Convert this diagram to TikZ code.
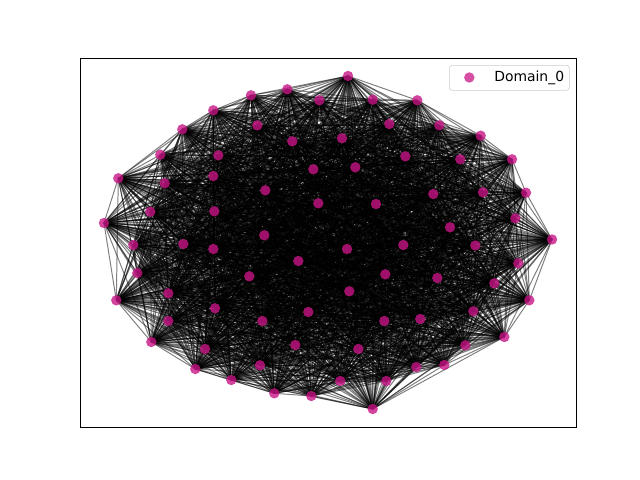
\documentclass[tikz,border=0pt]{standalone}
\usepackage{fontspec}
\setmainfont{DejaVu Sans}
\usetikzlibrary{backgrounds}

\definecolor{domcolor}{RGB}{199,21,133}
\tikzset{
  dom/.style={circle, fill=domcolor, fill opacity=0.8, inner sep=0pt, minimum size=2.6mm},
  link/.style={black, opacity=0.5, line width=0.7pt},
}

\begin{document}
\begin{tikzpicture}[x=0.025cm, y=-0.025cm]
\useasboundingbox (0,0) rectangle (640,480);

% Axes frame
\draw[line width=0.7pt] (80,58) rectangle (576,427);

% Place the domain nodes
\foreach \x/\y [count=\k] in {
  348/76, 287.3/89.3, 251/95.3, 319.3/100.3, 372.7/99.7, 417.3/100.3,
  213.3/110.3, 257.3/125.3, 182.3/129.3, 389.3/124, 439.3/125.3, 480.7/135.7,
  292.3/141.3, 342/138.3, 160.3/154.7, 218.3/155.3, 405.3/156.3, 460.3/159.3,
  512/159.3, 313.3/169.3, 355.3/167.3, 118.3/178.3, 164.7/183.3, 213.3/176,
  265.3/190.3, 433.3/194, 483/192.3, 526/192.7, 318.3/203.3, 376/204,
  150.3/211.7, 214.3/211.3, 515.3/218.3, 104/223, 450/227.3, 264.3/235.3,
  183.3/244, 133.3/245, 552/239.5, 213.3/249, 347/249, 403.3/245,
  475.3/245.5, 298.3/261, 518.3/263.3, 137.3/273, 249.3/276.3, 385.3/274.3,
  437.3/278, 494.3/283.3, 349.3/291.3, 116.3/300.3, 168.3/293.3, 215/308.3,
  529.3/300.3, 308.3/312, 473.3/311.3, 262.3/321, 384.3/321, 420.3/319,
  168.3/321, 151.3/342, 504.3/337, 205/349, 295.3/345, 358.3/349,
  465.3/345.3, 444.3/365, 260/365.3, 416.3/367, 195.3/369, 231.3/380,
  340.3/381, 386.3/381, 274.3/393.3, 311.3/396, 372.7/409}
  \node[dom] (n\k) at (\x,\y) {};

% Random links between the nodes, behind them
\pgfmathsetseed{42}
\begin{pgfonlayer}{background}
\foreach \i in {1,...,76} {
  \pgfmathtruncatemacro\first{\i+1}
  \foreach \j in {\first,...,77} {
    \pgfmathtruncatemacro\keep{rnd<0.85 ? 1 : 0}
    \ifnum\keep=1 \draw[link] (n\i.center) -- (n\j.center); \fi
  }
}
\end{pgfonlayer}

% Legend
\draw[black!20, fill=white, rounded corners=2pt] (449.3,65.3) rectangle (569.3,90.3);
\node[dom, fill opacity=0.75] (legmark) at (469.3,77.5) {};
\node[anchor=west, inner sep=0pt, font=\fontsize{9.9}{12}\selectfont] (legtext) at (494,77.5) {Domain\_0};

\end{tikzpicture}
\end{document}
